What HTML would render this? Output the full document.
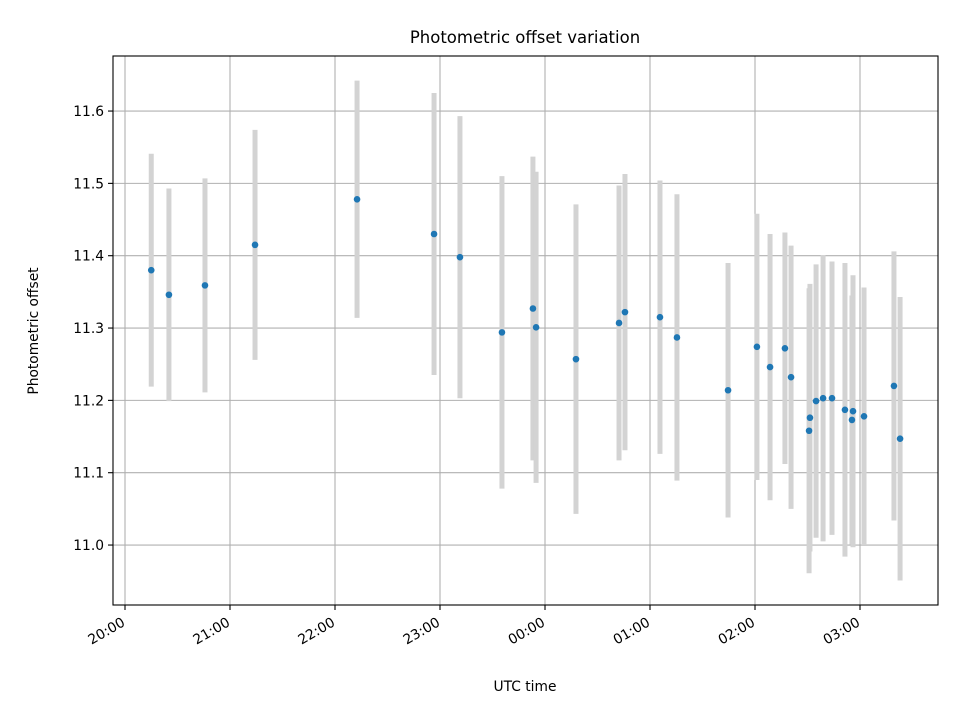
<!DOCTYPE html>
<html><head><meta charset="utf-8"><style>
body{margin:0;background:#fff}
svg{display:block;font-family:"DejaVu Sans","Liberation Sans",sans-serif}
</style></head><body>
<svg id="chart" width="960" height="720" viewBox="0 0 960 720" xmlns="http://www.w3.org/2000/svg">
<rect width="960" height="720" fill="#fff"/>
<g id="grid"></g>
<g id="errs"></g>
<g id="pts"></g>
<rect x="113" y="56" width="825" height="549" fill="none" stroke="#000" stroke-width="1.1"/>
<g id="axes"></g>
<text x="525" y="43" text-anchor="middle" font-size="16.5">Photometric offset variation</text>
<text x="525" y="691" text-anchor="middle" font-size="13.8">UTC time</text>
<text transform="translate(38,331) rotate(-90)" text-anchor="middle" font-size="13.8">Photometric offset</text>
</svg>
<script>
// minutes after 20:00 UTC
const times=[15,25.1,45.7,74.3,132.6,176.6,191.4,215.4,233.1,234.9,257.7,282.3,285.7,305.7,315.4,344.6,361.1,368.6,377.1,380.6,390.9,391.4,394.9,398.9,404,411.4,415.4,416,422.3,439.4,442.9];
const offsets=[11.380,11.346,11.359,11.415,11.478,11.430,11.398,11.294,11.327,11.301,11.257,11.307,11.322,11.315,11.287,11.214,11.274,11.246,11.272,11.232,11.158,11.176,11.199,11.203,11.203,11.187,11.173,11.185,11.178,11.220,11.147];
const errors=[0.161,0.147,0.148,0.159,0.164,0.195,0.195,0.216,0.210,0.215,0.214,0.190,0.191,0.189,0.198,0.176,0.184,0.184,0.160,0.182,0.197,0.185,0.189,0.198,0.189,0.203,0.172,0.188,0.178,0.186,0.196];
const xTickLabels=["20:00","21:00","22:00","23:00","00:00","01:00","02:00","03:00"];
const yTickValues=[11.0,11.1,11.2,11.3,11.4,11.5,11.6];

const NS="http://www.w3.org/2000/svg";
const L=113,R=938,T=56,B=605;
const xmin=-6.857,xmax=464.57,ymin=10.9171,ymax=11.6761;
const xs=m=>L+(m-xmin)/(xmax-xmin)*(R-L);
const ys=v=>B-(v-ymin)/(ymax-ymin)*(B-T);
function mk(tag,attrs,parent){const e=document.createElementNS(NS,tag);for(const k in attrs)e.setAttribute(k,attrs[k]);parent.appendChild(e);return e;}
const grid=document.getElementById('grid'),axes=document.getElementById('axes'),errs=document.getElementById('errs'),pts=document.getElementById('pts');
xTickLabels.forEach((lab,i)=>{
  const x=xs(i*60);
  const g=mk('line',{x1:x,x2:x,y1:T,y2:B,stroke:'#b0b0b0','stroke-width':1.1},grid);
  
  
  const t=mk('line',{x1:x,x2:x,y1:B,y2:B+5,stroke:'#000','stroke-width':1.1},axes);
  
  
  const tx=mk('text',{transform:`translate(${x+1},${B+20}) rotate(-30)`,'text-anchor':'end','font-size':'13.8'},axes);
  tx.textContent=lab;
  
  
});
yTickValues.forEach(v=>{
  const y=ys(v);
  const g=mk('line',{x1:L,x2:R,y1:y,y2:y,stroke:'#b0b0b0','stroke-width':1.1},grid);
  
  
  const t=mk('line',{x1:L-5,x2:L,y1:y,y2:y,stroke:'#000','stroke-width':1.1},axes);
  
  
  const tx=mk('text',{x:L-9,y:y+5,'text-anchor':'end','font-size':'13.8'},axes);
  tx.textContent=v.toFixed(1);
  
  
});
times.forEach((m,i)=>{
  const x=xs(m);
  const e=mk('line',{x1:x,x2:x,y1:ys(offsets[i]+errors[i]),y2:ys(offsets[i]-errors[i]),stroke:'#d3d3d3','stroke-width':5},errs);
  
  
  const c=mk('circle',{cx:x,cy:ys(offsets[i]),r:3.3,fill:'#1f77b4'},pts);
  
  
});
</script>
</body></html>
